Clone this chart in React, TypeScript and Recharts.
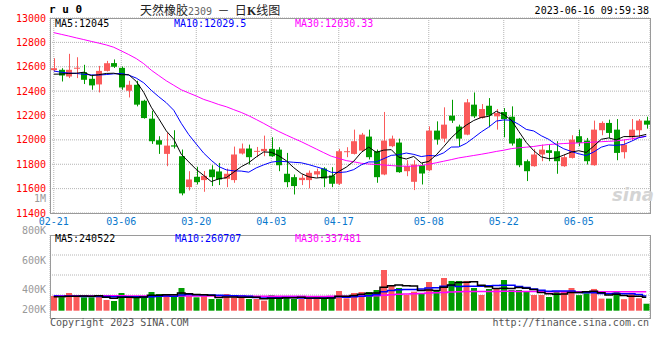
import React from 'react';
import { ComposedChart, Bar, Line, XAxis, YAxis, CartesianGrid, Cell } from 'recharts';

const dates = [
    '02-21', '02-22', '02-23', '02-24', '02-27', '02-28', '03-01', '03-02', '03-03', '03-06',
    '03-07', '03-08', '03-09', '03-10', '03-13', '03-14', '03-15', '03-16', '03-17', '03-20',
    '03-21', '03-22', '03-23', '03-24', '03-27', '03-28', '03-29', '03-30', '03-31', '04-03',
    '04-04', '04-06', '04-07', '04-10', '04-11', '04-12', '04-13', '04-14', '04-17', '04-18',
    '04-19', '04-20', '04-21', '04-24', '04-25', '04-26', '04-27', '04-28', '05-04', '05-05',
    '05-08', '05-09', '05-10', '05-11', '05-12', '05-15', '05-16', '05-17', '05-18', '05-19',
    '05-22', '05-23', '05-24', '05-25', '05-26', '05-29', '05-30', '05-31', '06-01', '06-02',
    '06-05', '06-06', '06-07', '06-08', '06-09', '06-12', '06-13', '06-14', '06-15', '06-16',
];

const opens = [
    12572, 12575, 12520, 12585, 12556, 12501, 12455, 12566, 12630, 12591,
    12403, 12452, 12321, 12174, 11997, 11885, 11955, 11866, 11612, 11697,
    11670, 11757, 11741, 11681, 11670, 11888, 11929, 11905, 11907, 11926,
    11920, 11722, 11694, 11670, 11670, 11716, 11765, 11708, 11640, 11900,
    11885, 11912, 12027, 11907, 11716, 11948, 11978, 11743, 11656, 11792,
    11751, 12076, 12010, 12199, 12109, 12043, 12289, 12179, 12280, 12193,
    12229, 12190, 12010, 11825, 11784, 11880, 11915, 11907, 11784, 11852,
    12030, 11994, 11792, 12079, 12139, 12084, 11899, 12021, 12079, 12158,
];
const highs = [
    12670, 12588, 12706, 12678, 12616, 12534, 12607, 12648, 12660, 12602,
    12485, 12485, 12329, 12239, 12030, 12057, 12079, 11921, 11743, 11779,
    11745, 11792, 11811, 11765, 11945, 11970, 11961, 11942, 12035, 12021,
    11940, 11893, 11716, 11716, 11749, 11765, 11776, 11776, 11926, 11940,
    12084, 12057, 12084, 11921, 12229, 12035, 12010, 11833, 11833, 11811,
    12111, 12152, 12267, 12329, 12125, 12335, 12389, 12294, 12343, 12253,
    12261, 12275, 12016, 11839, 11926, 11961, 11961, 11989, 11880, 12038,
    12084, 12016, 12158, 12152, 12166, 12171, 12002, 12171, 12171, 12190,
];
const lows = [
    12561, 12479, 12507, 12507, 12458, 12411, 12389, 12561, 12590, 12411,
    12348, 12275, 12174, 11967, 11885, 11784, 11929, 11545, 11585, 11634,
    11574, 11621, 11629, 11612, 11648, 11880, 11798, 11858, 11866, 11861,
    11743, 11612, 11552, 11629, 11602, 11689, 11612, 11612, 11629, 11858,
    11880, 11907, 11839, 11648, 11710, 11940, 11730, 11702, 11588, 11634,
    11743, 11961, 11980, 12139, 11948, 12038, 12179, 12174, 12103, 12084,
    12021, 11953, 11776, 11662, 11780, 11825, 11825, 11722, 11779, 11847,
    11948, 11798, 11788, 12038, 12016, 11833, 11847, 11994, 12016, 12092,
];
const closes = [
    12588, 12528, 12575, 12592, 12493, 12447, 12566, 12629, 12600, 12430,
    12452, 12289, 12179, 11989, 11961, 11953, 11945, 11561, 11675, 11653,
    11705, 11694, 11675, 11722, 11880, 11929, 11858, 11910, 11926, 11866,
    11792, 11653, 11621, 11689, 11730, 11743, 11683, 11640, 11907, 11907,
    11989, 12043, 11858, 11694, 11994, 12010, 11735, 11784, 11798, 11724,
    12076, 12002, 12125, 12158, 12010, 12308, 12193, 12253, 12199, 12220,
    12171, 11970, 11792, 11743, 11880, 11920, 11893, 11825, 11858, 12002,
    11975, 11825, 12084, 12139, 12057, 11893, 11961, 12084, 12158, 12125,
];

const ma5 = [
    12539, 12540, 12545, 12547, 12555, 12527, 12535, 12545, 12547, 12534,
    12535, 12480, 12390, 12268, 12174, 12074, 12005, 11882, 11819, 11757,
    11708, 11658, 11680, 11690, 11735, 11780, 11813, 11860, 11901, 11898,
    11870, 11829, 11772, 11724, 11697, 11687, 11693, 11697, 11741, 11776,
    11825, 11897, 11941, 11898, 11916, 11920, 11858, 11843, 11864, 11810,
    11823, 11877, 11945, 12017, 12074, 12121, 12159, 12184, 12193, 12235,
    12207, 12163, 12070, 11979, 11911, 11861, 11846, 11852, 11875, 11900,
    11911, 11897, 11949, 12005, 12016, 12000, 12027, 12027, 12031, 12045,
];
const ma10 = [
    12565, 12555, 12548, 12545, 12538, 12533, 12532, 12536, 12542, 12545,
    12531, 12507, 12468, 12407, 12354, 12305, 12243, 12136, 12043, 11966,
    11891, 11832, 11781, 11754, 11746, 11744, 11735, 11770, 11795, 11817,
    11825, 11821, 11816, 11812, 11797, 11779, 11761, 11734, 11732, 11737,
    11756, 11795, 11819, 11819, 11846, 11873, 11878, 11892, 11881, 11863,
    11872, 11868, 11894, 11941, 11942, 11972, 12018, 12065, 12105, 12154,
    12164, 12161, 12127, 12086, 12073, 12034, 12004, 11961, 11927, 11905,
    11886, 11871, 11901, 11940, 11958, 11955, 11962, 11988, 12018, 12030,
];
const ma30 = [
    12880, 12866, 12852, 12837, 12823, 12808, 12794, 12779, 12760, 12730,
    12700, 12667, 12625, 12572, 12528, 12485, 12448, 12411, 12385, 12360,
    12332, 12312, 12290, 12272, 12248, 12225, 12198, 12167, 12135, 12101,
    12069, 12040, 12012, 11985, 11955, 11925, 11895, 11866, 11848, 11830,
    11820, 11808, 11802, 11798, 11794, 11789, 11785, 11784, 11784, 11790,
    11800, 11812, 11825, 11838, 11852, 11862, 11872, 11882, 11893, 11905,
    11915, 11928, 11935, 11940, 11946, 11955, 11962, 11966, 11970, 11973,
    11975, 11978, 11982, 11985, 11988, 11992, 11999, 12008, 12018, 12030,
];

// volume in thousands of lots
const volumes = [
    262, 238, 315, 262, 238, 238, 274, 190, 173, 315,
    250, 238, 250, 333, 297, 297, 250, 404, 262, 238,
    262, 208, 208, 297, 238, 238, 208, 208, 179, 274,
    238, 262, 208, 208, 208, 238, 238, 238, 351, 220,
    315, 333, 333, 368, 724, 457, 404, 279, 338, 315,
    511, 351, 582, 529, 529, 529, 404, 279, 386, 386,
    546, 368, 368, 333, 279, 279, 244, 333, 351, 404,
    277, 309, 387, 215, 215, 334, 205, 318, 221, 124,
];
const volMa5 = [
    250, 248, 255, 258, 263, 258, 265, 240, 223, 238,
    240, 233, 245, 277, 274, 283, 285, 316, 302, 290,
    283, 275, 236, 243, 243, 238, 238, 238, 214, 221,
    221, 232, 232, 238, 225, 225, 220, 226, 255, 257,
    272, 291, 310, 314, 415, 443, 457, 446, 440, 359,
    369, 359, 419, 458, 500, 504, 515, 454, 425, 397,
    400, 393, 411, 400, 379, 325, 301, 294, 297, 322,
    322, 335, 346, 318, 281, 292, 271, 257, 259, 240,
];
const volMa10 = [
    260, 258, 257, 255, 254, 252, 251, 251, 250, 250,
    249, 249, 243, 250, 256, 262, 259, 281, 290, 282,
    283, 280, 276, 272, 266, 261, 256, 237, 228, 232,
    230, 235, 235, 226, 223, 223, 226, 229, 246, 241,
    249, 256, 268, 284, 336, 358, 374, 378, 377, 387,
    406, 408, 433, 449, 430, 437, 437, 437, 442, 449,
    452, 454, 432, 413, 388, 363, 347, 352, 349, 351,
    324, 318, 320, 308, 301, 307, 303, 302, 289, 261,
];
const volMa30 = [
    268, 268, 267, 267, 266, 266, 265, 265, 264, 264,
    263, 263, 262, 262, 262, 262, 262, 263, 263, 263,
    262, 262, 261, 261, 260, 260, 259, 258, 257, 256,
    256, 255, 255, 255, 254, 254, 254, 255, 257, 258,
    260, 262, 264, 267, 276, 285, 292, 297, 302, 308,
    314, 319, 326, 332, 337, 340, 342, 341, 341, 342,
    344, 344, 343, 342, 341, 340, 339, 338, 338, 338,
    338, 339, 340, 339, 338, 339, 338, 338, 338, 337,
];

const priceTicks = [11400, 11600, 11800, 12000, 12200, 12400, 12600, 12800, 13000];
const dateTicks = ['02-21', '03-06', '03-20', '04-03', '04-17', '05-08', '05-22', '06-05'];
const volLabels = ['1M', '800K', '600K', '400K', '200K'];

const UP = '#fa5a5a';
const DOWN = '#009c00';
const MONO = "'DejaVu Sans Mono', 'Liberation Mono', monospace";

const rows = dates.map((d, i) => ({
    date: d,
    range: [lows[i], highs[i]],
    open: opens[i],
    close: closes[i],
    high: highs[i],
    low: lows[i],
    ma5: ma5[i],
    ma10: ma10[i],
    ma30: ma30[i],
    vol: volumes[i],
    vma5: volMa5[i],
    vma10: volMa10[i],
    vma30: volMa30[i],
}));

const Candle = (props: any) => {
    const { x, y, width, height, payload } = props;
    if (!payload) return null;
    const { open, close, high, low } = payload;
    const top = Math.min(y, y + height);
    const h = Math.abs(height);
    const py = (v: number) => top + ((high - v) / (high - low)) * h;
    const color = close >= open ? UP : DOWN;
    const cx = Math.round(x + width / 2) + 0.5;
    const bTop = py(Math.max(open, close));
    const bBot = py(Math.min(open, close));
    return (
        <g>
            <line x1={cx} x2={cx} y1={top} y2={top + h} stroke={color} strokeWidth={1} />
            <rect x={Math.round(x)} y={bTop} width={width} height={Math.max(1, bBot - bTop)} fill={color} />
        </g>
    );
};

const txt = (extra: React.CSSProperties): React.CSSProperties => ({
    position: 'absolute',
    fontFamily: MONO,
    fontSize: 10,
    lineHeight: '12px',
    whiteSpace: 'pre',
    ...extra,
});

const App = () => {
    return (
        <div style={{ position: 'absolute', left: 0, top: 0, width: 660, height: 360, background: '#fff', overflow: 'hidden' }}>
            {/* header */}
            <div style={txt({ left: 49, top: 4, fontSize: 11, fontWeight: 'bold', color: '#000' })}>r u 0</div>
            <div style={{ position: 'absolute', left: 140, top: 2, fontSize: 12, lineHeight: '16px', color: '#222', fontFamily: "'Noto Sans CJK SC', sans-serif", whiteSpace: 'pre' }}>
                天然橡胶<span style={{ fontFamily: MONO, fontSize: 10, color: '#666' }}>2309</span>  －  日<b style={{ fontFamily: 'serif' }}>K</b>线图
            </div>
            <div style={txt({ right: 11, top: 5, color: '#000' })}>2023-06-16 09:59:38</div>

            {/* main candlestick panel */}
            <div style={{ position: 'absolute', left: 0, top: 0 }}>
                <ComposedChart width={660} height={240} data={rows} margin={{ top: 18, right: 10, bottom: 0, left: 0 }}>
                    <CartesianGrid stroke="#b4b4b4" strokeDasharray="1 1" />
                    <XAxis
                        dataKey="date"
                        ticks={dateTicks}
                        interval={0}
                        height={27}
                        tickLine={false}
                        axisLine={false}
                        tickSize={0}
                        tickMargin={5}
                        tick={{ fill: '#0a78cc', fontSize: 10, fontFamily: MONO }}
                    />
                    <YAxis
                        domain={[11400, 13000]}
                        ticks={priceTicks}
                        interval={0}
                        width={50}
                        allowDataOverflow
                        tickLine={false}
                        axisLine={false}
                        tickSize={0}
                        tickMargin={4}
                        tick={{ fill: '#ff0000', fontSize: 10, fontFamily: MONO }}
                    />
                    <Bar dataKey="range" barSize={6} shape={<Candle />} isAnimationActive={false} />
                    <Line dataKey="ma30" stroke="#ff00ff" strokeWidth={1} dot={false} isAnimationActive={false} />
                    <Line dataKey="ma10" stroke="#0000ff" strokeWidth={1} dot={false} isAnimationActive={false} />
                    <Line dataKey="ma5" stroke="#000000" strokeWidth={1} dot={false} isAnimationActive={false} />
                </ComposedChart>
            </div>
            <div style={{ position: 'absolute', left: 50, top: 18, width: 599, height: 194, border: '1px solid #9a9a9a', pointerEvents: 'none' }} />
            <div style={txt({ left: 55, top: 18, color: '#000' })}>MA5:12045</div>
            <div style={txt({ left: 174, top: 18, color: '#0000ff' })}>MA10:12029.5</div>
            <div style={txt({ left: 295, top: 18, color: '#ff00ff' })}>MA30:12030.33</div>
            <div style={{ position: 'absolute', left: 612, top: 184, fontFamily: "'DejaVu Sans', sans-serif", fontSize: 18, fontStyle: 'italic', fontWeight: 'bold', color: '#d4d4d4' }}>sina</div>

            {/* volume panel */}
            <div style={{ position: 'absolute', left: 0, top: 228 }}>
                <ComposedChart width={660} height={95} data={rows} margin={{ top: 7, right: 10, bottom: 5, left: 0 }}>
                    <CartesianGrid stroke="#b4b4b4" strokeDasharray="1 1" horizontalPoints={[27, 47, 67]} />
                    <XAxis dataKey="date" ticks={dateTicks} interval={0} height={0} tick={false} tickLine={false} axisLine={false} />
                    <YAxis domain={[-130, 1347]} allowDataOverflow width={50} tick={false} tickLine={false} axisLine={false} />
                    <Bar dataKey="vol" barSize={6} isAnimationActive={false}>
                        {rows.map((r, i) => (
                            <Cell key={i} fill={r.close >= r.open ? UP : DOWN} />
                        ))}
                    </Bar>
                    <Line type="step" dataKey="vma30" stroke="#ff00ff" strokeWidth={1.5} dot={false} isAnimationActive={false} />
                    <Line type="step" dataKey="vma10" stroke="#0000ff" strokeWidth={1.5} dot={false} isAnimationActive={false} />
                    <Line type="step" dataKey="vma5" stroke="#000000" strokeWidth={1.5} dot={false} isAnimationActive={false} />
                </ComposedChart>
            </div>
            <div style={{ position: 'absolute', left: 50, top: 235, width: 599, height: 82, border: '1px solid #9a9a9a', pointerEvents: 'none' }} />
            <div style={txt({ left: 55, top: 233, color: '#000' })}>MA5:240522</div>
            <div style={txt({ left: 175, top: 233, color: '#0000ff' })}>MA10:260707</div>
            <div style={txt({ left: 295, top: 233, color: '#ff00ff' })}>MA30:337481</div>
            {volLabels.map((l, i) => (
                <div key={l} style={txt({ right: 614, top: [193, 225, 255, 284, 304][i], color: '#999', textAlign: 'right' })}>{l}</div>
            ))}

            {/* footer */}
            <div style={txt({ left: 50, top: 317, color: '#555' })}>Copyright 2023 SINA.COM</div>
            <div style={txt({ right: 11, top: 317, color: '#555' })}>http://finance.sina.com.cn</div>
        </div>
    );
};

export default App;
